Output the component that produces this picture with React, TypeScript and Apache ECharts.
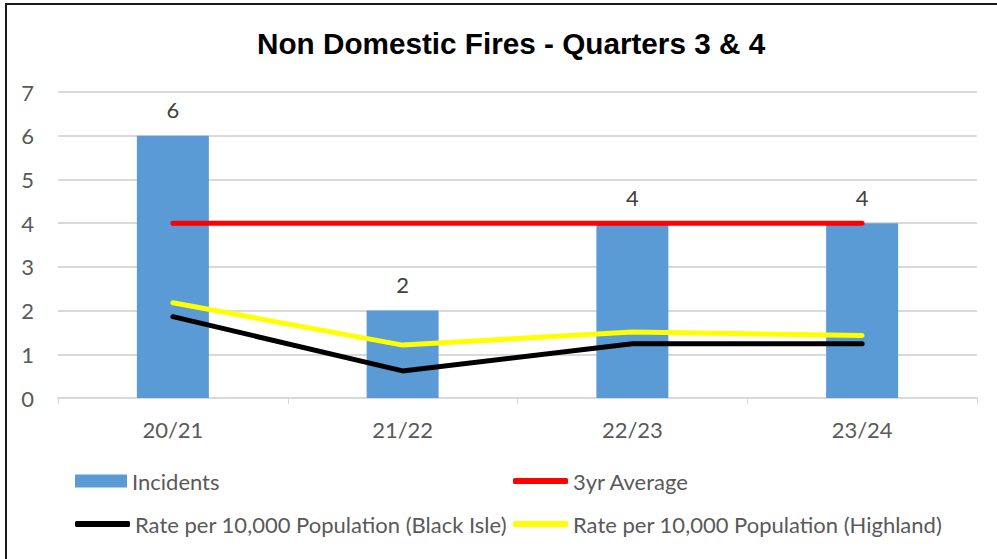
import React, { useEffect, useRef } from "react";
import * as echarts from "echarts";

const categories = ["20/21", "21/22", "22/23", "23/24"];
const incidents = [6, 2, 4, 4];
const threeYearAverage = [4, 4, 4, 4];
const rateBlackIsle = [1.86, 0.62, 1.24, 1.24];
const rateHighland = [2.18, 1.21, 1.51, 1.43];
const yTicks = [0, 1, 2, 3, 4, 5, 6, 7];

const FONT = "Lato, 'Open Sans', sans-serif";
const TEXT = "#595959";

export default function App() {
  const ref = useRef<HTMLDivElement>(null);
  useEffect(() => {
    document.body.style.margin = "0";
    const chart = echarts.init(ref.current!, null, { renderer: "svg" });
    const legendText = { color: TEXT, fontSize: 22, fontFamily: FONT };
    const legendBase = { padding: 0, itemGap: 0 };
    chart.setOption({
      animation: false,
      backgroundColor: "#ffffff",
      title: {
        text: "Non Domestic Fires - Quarters 3 & 4",
        left: 252,
        top: 23,
        textStyle: {
          fontFamily: "'Liberation Sans', Arial, sans-serif",
          fontWeight: "bold",
          fontSize: 29.7,
          color: "#000000",
        },
      },
      graphic: [
        {
          type: "rect",
          shape: { x: 6, y: 4, width: 1100, height: 700 },
          style: { fill: "none", stroke: "#1a1a1a", lineWidth: 2 },
          z: -1,
        },
      ],
      legend: [
        {
          ...legendBase,
          data: ["Incidents"],
          left: 75,
          top: 470,
          itemWidth: 52,
          itemHeight: 13,
          icon: "rect",
          textStyle: legendText,
        },
        {
          ...legendBase,
          data: ["3yr Average"],
          left: 513,
          top: 470,
          itemWidth: 55,
          itemHeight: 6,
          icon: "roundRect",
          textStyle: legendText,
        },
        {
          ...legendBase,
          data: ["Rate per 10,000 Population (Black Isle)"],
          left: 75,
          top: 513,
          itemWidth: 55,
          itemHeight: 6,
          icon: "roundRect",
          textStyle: legendText,
        },
        {
          ...legendBase,
          data: ["Rate per 10,000 Population (Highland)"],
          left: 513,
          top: 513,
          itemWidth: 55,
          itemHeight: 6,
          icon: "roundRect",
          textStyle: legendText,
        },
      ],
      grid: { left: 58, right: 20, top: 92, bottom: 161 },
      xAxis: {
        type: "category",
        data: categories,
        axisLine: { lineStyle: { color: "#d9d9d9", width: 2 } },
        axisTick: { show: true, length: 6, lineStyle: { color: "#d9d9d9", width: 1 } },
        axisLabel: { color: TEXT, fontSize: 22, fontFamily: FONT, margin: 20 },
      },
      yAxis: {
        type: "value",
        min: yTicks[0],
        max: yTicks[yTicks.length - 1],
        interval: 1,
        axisLine: { show: false },
        axisTick: { show: false },
        axisLabel: { color: TEXT, fontSize: 22, fontFamily: FONT, margin: 24 },
        splitLine: { lineStyle: { color: "#d9d9d9", width: 2 } },
      },
      series: [
        {
          name: "Incidents",
          type: "bar",
          data: incidents,
          barWidth: 72,
          itemStyle: { color: "#5B9BD5" },
          label: {
            show: true,
            position: "top",
            distance: 15,
            color: "#404040",
            fontSize: 22,
            fontFamily: FONT,
          },
        },
        {
          name: "3yr Average",
          type: "line",
          data: threeYearAverage,
          symbol: "none",
          itemStyle: { color: "#FF0000" },
          lineStyle: { color: "#FF0000", width: 5, cap: "round" },
        },
        {
          name: "Rate per 10,000 Population (Black Isle)",
          type: "line",
          data: rateBlackIsle,
          symbol: "none",
          itemStyle: { color: "#000000" },
          lineStyle: { color: "#000000", width: 5, cap: "round" },
        },
        {
          name: "Rate per 10,000 Population (Highland)",
          type: "line",
          data: rateHighland,
          symbol: "none",
          itemStyle: { color: "#FFFF00" },
          lineStyle: { color: "#FFFF00", width: 5, cap: "round" },
        },
      ],
    });
    return () => chart.dispose();
  }, []);
  return <div ref={ref} style={{ width: 997, height: 559 }} />;
}
